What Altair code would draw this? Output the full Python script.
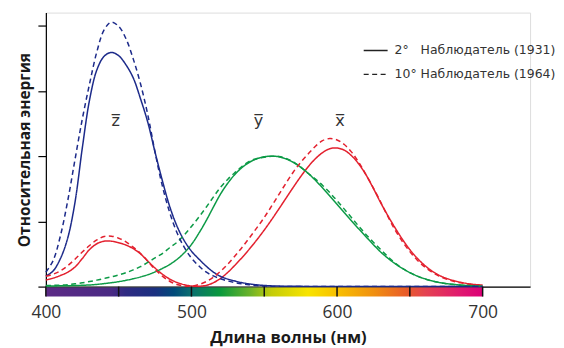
import altair as alt
import pandas as pd

# Wavelengths (nm)
wl = list(range(400, 705, 5))

# 2° observer (1931)
x2 = [0.050, 0.065, 0.085, 0.110, 0.150, 0.2148, 0.2839, 0.3285, 0.3483, 0.3481,
      0.3362, 0.3187, 0.2908, 0.2511, 0.1954, 0.1421, 0.0956, 0.0580, 0.0320, 0.0147,
      0.0049, 0.0024, 0.0093, 0.0291, 0.0633, 0.1096, 0.1655, 0.2257, 0.2904, 0.3597,
      0.4334, 0.5121, 0.5945, 0.6784, 0.7621, 0.8425, 0.9163, 0.9786, 1.0263, 1.0567,
      1.0622, 1.0456, 1.0026, 0.9384, 0.8544, 0.7514, 0.6424, 0.5419, 0.4479, 0.3608,
      0.2835, 0.2187, 0.1649, 0.1212, 0.0874, 0.0636, 0.0468, 0.0329, 0.0227, 0.0158,
      0.0114]
y2 = [0.0040, 0.0050, 0.0060, 0.0070, 0.0085, 0.0100, 0.0125, 0.0168, 0.0230, 0.0298,
      0.0380, 0.0480, 0.0600, 0.0739, 0.0910, 0.1126, 0.1390, 0.1693, 0.2080, 0.2586,
      0.3230, 0.4073, 0.5030, 0.6082, 0.7100, 0.7932, 0.8620, 0.9149, 0.9540, 0.9803,
      0.9950, 1.0000, 0.9950, 0.9786, 0.9520, 0.9154, 0.8700, 0.8163, 0.7570, 0.6949,
      0.6310, 0.5668, 0.5030, 0.4412, 0.3810, 0.3210, 0.2650, 0.2170, 0.1750, 0.1382,
      0.1070, 0.0816, 0.0610, 0.0446, 0.0320, 0.0232, 0.0170, 0.0119, 0.0082, 0.0057,
      0.0041]
z2 = [0.080, 0.120, 0.2150, 0.3713, 0.6456, 1.0600, 1.4300, 1.6600, 1.7650, 1.7950,
      1.7700, 1.7000, 1.6000, 1.4400, 1.2600, 1.0300, 0.8130, 0.6162, 0.4652, 0.3533,
      0.2720, 0.2123, 0.1582, 0.1117, 0.0783, 0.0573, 0.0422, 0.0298, 0.0203, 0.0134,
      0.0088, 0.0058, 0.0039, 0.0028, 0.0021, 0.0018, 0.0017, 0.0014, 0.0011, 0.0010,
      0.0008, 0.0006, 0.0003, 0.0002, 0.0002, 0.0001, 0.0001, 0.0000, 0.0000, 0.0000,
      0.0, 0.0, 0.0, 0.0, 0.0, 0.0, 0.0, 0.0, 0.0, 0.0, 0.0]

# 10° observer (1964)
x10 = [0.080, 0.095, 0.120, 0.160, 0.2100, 0.2647, 0.3147, 0.3577, 0.3837, 0.3867,
       0.3707, 0.3430, 0.3023, 0.2541, 0.1956, 0.1323, 0.0805, 0.0411, 0.0162, 0.0051,
       0.0038, 0.0154, 0.0375, 0.0714, 0.1177, 0.1730, 0.2365, 0.3042, 0.3768, 0.4516,
       0.5298, 0.6161, 0.7052, 0.7938, 0.8787, 0.9512, 1.0142, 1.0743, 1.1185, 1.1343,
       1.1240, 1.0891, 1.0305, 0.9507, 0.8563, 0.7549, 0.6475, 0.5351, 0.4316, 0.3437,
       0.2683, 0.2043, 0.1526, 0.1122, 0.0813, 0.0579, 0.0409, 0.0286, 0.0199, 0.0138,
       0.0096]
y10 = [0.0080, 0.0095, 0.0110, 0.0145, 0.0214, 0.0295, 0.0387, 0.0496, 0.0621, 0.0747,
       0.0895, 0.1063, 0.1282, 0.1528, 0.1852, 0.2199, 0.2536, 0.2977, 0.3391, 0.3954,
       0.4608, 0.5314, 0.6067, 0.6857, 0.7618, 0.8233, 0.8752, 0.9238, 0.9620, 0.9822,
       0.9918, 0.9991, 0.9973, 0.9824, 0.9556, 0.9152, 0.8689, 0.8256, 0.7774, 0.7204,
       0.6583, 0.5939, 0.5280, 0.4618, 0.3981, 0.3396, 0.2835, 0.2283, 0.1798, 0.1402,
       0.1076, 0.0812, 0.0603, 0.0441, 0.0318, 0.0226, 0.0159, 0.0111, 0.0077, 0.0054,
       0.0037]
z10 = [0.110, 0.2000, 0.3894, 0.6568, 0.9725, 1.2825, 1.5535, 1.7985, 1.9673, 2.0273,
       1.9948, 1.9007, 1.7454, 1.5549, 1.3176, 1.0302, 0.7721, 0.5701, 0.4153, 0.3024,
       0.2185, 0.1592, 0.1120, 0.0822, 0.0607, 0.0431, 0.0305, 0.0206, 0.0137, 0.0079,
       0.0040, 0.0011, 0.0, 0.0, 0.0, 0.0, 0.0, 0.0, 0.0, 0.0,
       0.0, 0.0, 0.0, 0.0, 0.0, 0.0, 0.0, 0.0, 0.0, 0.0,
       0.0, 0.0, 0.0, 0.0, 0.0, 0.0, 0.0, 0.0, 0.0, 0.0, 0.0]

functions = ["x", "y", "z"]
func_colors = ["#e3202e", "#0c9a46", "#1c2a8a"]
observers = ["2°\u2007 Наблюдатель (1931)", "10° Наблюдатель (1964)"]

curve_labels = ["z\u0305", "y\u0305", "x\u0305"]
label_wl = [448, 546, 602]
label_val = [1.27, 1.27, 1.27]

x_tick_labels = [400, 500, 600, 700]
y_tick_values = [0, 0.5, 1, 1.5, 2]
band_ticks = [400, 450, 500, 550, 600, 650, 700]
spectrum_wl = [400, 445, 455, 475, 488, 500, 520, 540, 555, 580, 600, 625, 648, 660, 685, 700]
spectrum_colors = ["#5c2a86", "#4a2a84", "#2e2a82", "#1a3080", "#004a7a", "#0a7070", "#0a9a3c",
                   "#6ab22a", "#c4cc08", "#f8e400", "#f8c000", "#f09010", "#e85a2a", "#e44450",
                   "#e01870", "#dc0078"]

rows = []
for obs, series in zip(observers, [(x2, y2, z2), (x10, y10, z10)]):
    for f, vals in zip(functions, series):
        for w, v in zip(wl, vals):
            rows.append({"wl": w, "val": v, "func": f, "obs": obs})
df = pd.DataFrame(rows)

W, H = 486, 275
FONT = "Open Sans"

xscale = alt.Scale(domain=[400, 732.6], nice=False, zero=False)
yscale = alt.Scale(domain=[0, 2.1], nice=False)

lines = alt.Chart(df).mark_line(strokeWidth=1.5, interpolate="catmull-rom").encode(
    x=alt.X("wl:Q", scale=xscale,
            axis=alt.Axis(values=x_tick_labels, ticks=False, grid=False, labelFlush=False,
                          labelPadding=17, labelFontSize=17.5, labelColor="#333333",
                          domainColor="#000000", domainWidth=1.2,
                          title="Длина волны (нм)", titleFontSize=16.5, titleFontWeight="bold",
                          titleColor="#1a1a1a", titlePadding=9)),
    y=alt.Y("val:Q", scale=yscale,
            axis=alt.Axis(values=y_tick_values, labels=False, grid=False,
                          tickSize=8, tickColor="#000000", domainColor="#000000",
                          domainWidth=1.2, tickWidth=1.2,
                          title="Относительная энергия", titleFontSize=15.5,
                          titleFontWeight="bold", titleColor="#1a1a1a", titlePadding=5)),
    color=alt.Color("func:N", scale=alt.Scale(domain=functions, range=func_colors), legend=None),
    strokeDash=alt.StrokeDash("obs:N",
                              scale=alt.Scale(domain=observers, range=[[1, 0], [5, 3.5]]),
                              legend=alt.Legend(title=None, orient="none", legendX=318, legendY=25,
                                                symbolType="stroke", symbolSize=576,
                                                symbolStrokeColor="#222222", symbolStrokeWidth=1.5,
                                                labelFontSize=12.5, labelColor="#333333",
                                                labelFont="DejaVu Sans", labelLimit=400,
                                                rowPadding=4, labelOffset=6)),
)

lab_df = pd.DataFrame({"wl": label_wl, "val": label_val, "t": curve_labels})
labels = alt.Chart(lab_df).mark_text(fontSize=16, color="#333333", font="DejaVu Sans").encode(
    x="wl:Q", y="val:Q", text="t:N")

grad = alt.Gradient(gradient="linear", x1=0, x2=1, y1=0, y2=0,
                    stops=[alt.GradientStop(offset=(w - 400) / 300, color=c)
                           for w, c in zip(spectrum_wl, spectrum_colors)])
band_df = pd.DataFrame({"a": [400], "b": [700]})
band = alt.Chart(band_df).mark_rect(fill=grad).encode(
    x="a:Q", x2="b:Q", y=alt.value(H + 1), y2=alt.value(H + 10))

tick_df = pd.DataFrame({"wl": band_ticks})
band_ticks_layer = alt.Chart(tick_df).mark_rule(color="#111111", strokeWidth=1.5).encode(
    x="wl:Q", y=alt.value(H), y2=alt.value(H + 10))

chart = alt.layer(lines, labels, band, band_ticks_layer).properties(
    width=W, height=H, background="#ffffff",
    padding={"left": 9, "top": 4, "right": 0, "bottom": 0}
).configure_view(stroke=None).configure(font=FONT)

chart.save("out.html", embed_options={"renderer": "svg", "actions": False})
